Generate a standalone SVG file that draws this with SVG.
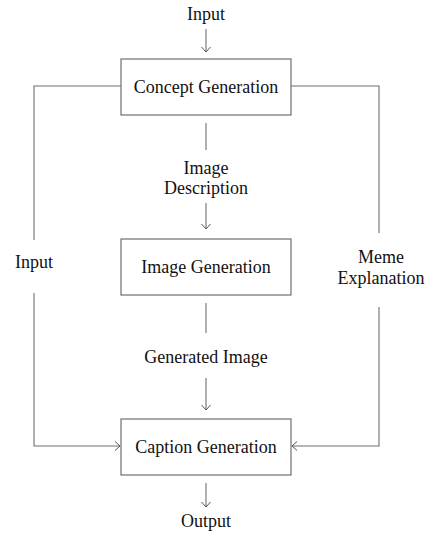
<svg xmlns="http://www.w3.org/2000/svg" width="425" height="536" viewBox="0 0 425 536">
  <style>
    .box { fill: #ffffff; stroke: #707070; stroke-width: 1.2; }
    .lbl { font-family: "Liberation Serif", "Times New Roman", serif; font-size: 18px; fill: #111111; text-anchor: middle; }
    .wire { fill: none; stroke: #6e6e6e; stroke-width: 1.1; }
    .arr { marker-end: url(#head); }
  </style>
  <defs>
    <marker id="head" markerUnits="userSpaceOnUse" markerWidth="12" markerHeight="12" refX="0" refY="0" viewBox="-7 -6 8 12" orient="auto" overflow="visible">
      <path d="M-5,-4.5 L0,0 L-5,4.5" fill="none" stroke="#555555" stroke-width="1"/>
    </marker>
  </defs>

  <rect width="425" height="536" fill="#ffffff"/>

  <!-- connectors -->
  <g id="connectors">
    <!-- input into concept generation -->
    <line class="wire arr" x1="206" y1="29" x2="206" y2="52"/>
    <!-- concept -> image (broken by label) -->
    <line class="wire" x1="206" y1="123" x2="206" y2="150"/>
    <line class="wire arr" x1="206" y1="203" x2="206" y2="229"/>
    <!-- image -> caption (broken by label) -->
    <line class="wire" x1="206" y1="303" x2="206" y2="333"/>
    <line class="wire arr" x1="206" y1="378" x2="206" y2="410"/>
    <!-- caption -> output -->
    <line class="wire arr" x1="206" y1="483" x2="206" y2="507"/>
    <!-- left loop: input -->
    <polyline class="wire" points="121,86 34,86 34,240"/>
    <polyline class="wire arr" points="34,293 34,446 120,446"/>
    <!-- right loop: meme explanation -->
    <polyline class="wire" points="291,86 379,86 379,233"/>
    <polyline class="wire arr" points="379,307 379,446 292,446"/>
  </g>

  <g id="concept-generation">
    <rect class="box" x="121" y="59" width="170" height="56"/>
    <text class="lbl" x="206" y="93">Concept Generation</text>
  </g>

  <g id="image-generation">
    <rect class="box" x="121" y="239" width="170" height="56"/>
    <text class="lbl" x="206" y="273">Image Generation</text>
  </g>

  <g id="caption-generation">
    <rect class="box" x="121" y="419" width="170" height="56"/>
    <text class="lbl" x="206" y="453">Caption Generation</text>
  </g>

  <g id="labels">
    <text class="lbl" x="206" y="174">Image</text>
    <text class="lbl" x="206" y="194">Description</text>
    <text class="lbl" x="206" y="20">Input</text>
    <text class="lbl" x="206" y="363">Generated Image</text>
    <text class="lbl" x="206" y="527">Output</text>
    <text class="lbl" x="34" y="268">Input</text>
    <text class="lbl" x="381" y="263">Meme</text>
    <text class="lbl" x="381" y="284">Explanation</text>
  </g>
</svg>
